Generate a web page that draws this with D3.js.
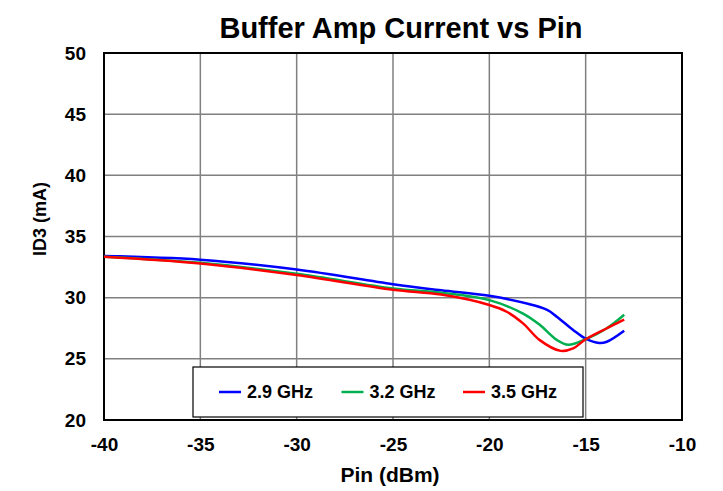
<!DOCTYPE html>
<html><head><meta charset="utf-8">
<script src="https://cdn.jsdelivr.net/npm/d3@7"></script>
<style>body{margin:0;background:#fff}svg{font-family:Arial,"Liberation Sans",sans-serif}</style>
</head><body><svg id="c" width="723" height="491"></svg>
<script>
const seriesNames = ["2.9 GHz","3.2 GHz","3.5 GHz"];
const seriesColors = ["#0000FF","#00B050","#FF0000"];
const pin29 = [-40,-35,-30,-25,-22.5,-20,-18,-17,-16.5,-15.65,-15,-14.3,-13.9,-13];
const id29  = [33.4,33.1,32.3,31.1,30.6,30.15,29.5,29.0,28.45,27.36,26.65,26.3,26.4,27.3];
const pin32 = [-40,-35,-30,-25,-22.5,-20,-18.25,-17.4,-16.5,-15.9,-15,-13.9,-13];
const id32  = [33.35,32.85,31.95,30.75,30.4,29.8,28.7,27.8,26.55,26.15,26.6,27.5,28.6];
const pin35 = [-40,-35,-30,-25,-22.5,-20,-19.1,-18.25,-17.4,-16.3,-15.65,-15,-13.9,-13];
const id35  = [33.35,32.8,31.85,30.65,30.25,29.4,28.85,27.9,26.55,25.65,25.85,26.6,27.5,28.2];
const xTicks = [-40,-35,-30,-25,-20,-15,-10];
const yTicks = [20,25,30,35,40,45,50];

const svg = d3.select("#c");
const L=104,R=682,T=53,B=420;
const x = d3.scaleLinear().domain([-40,-10]).range([L,R]);
const y = d3.scaleLinear().domain([20,50]).range([B,T]);
const fmt = d => String(d);

const g = svg.append("g");
g.selectAll(".gx").data(xTicks).join("line").attr("x1",d=>x(d)).attr("x2",d=>x(d)).attr("y1",T).attr("y2",B).attr("stroke","#808080").attr("stroke-width",1.5);
g.selectAll(".gy").data(yTicks).join("line").attr("y1",d=>y(d)).attr("y2",d=>y(d)).attr("x1",L).attr("x2",R).attr("stroke","#808080").attr("stroke-width",1.5);
g.append("rect").attr("x",L).attr("y",T).attr("width",R-L).attr("height",B-T).attr("fill","none").attr("stroke","#000").attr("stroke-width",2);

const xa = svg.append("g").attr("transform",`translate(0,${B})`).call(d3.axisBottom(x).tickValues(xTicks).tickFormat(fmt).tickSize(0).tickPadding(18));
xa.select(".domain").remove();
xa.selectAll("text").attr("font-size",19).attr("font-weight","bold").attr("fill","#000").attr("font-family","Arial, Liberation Sans, sans-serif");
const ya = svg.append("g").attr("transform",`translate(${L},0)`).call(d3.axisLeft(y).tickValues(yTicks).tickFormat(fmt).tickSize(0).tickPadding(18));
ya.select(".domain").remove();
ya.selectAll("text").attr("font-size",19).attr("font-weight","bold").attr("fill","#000").attr("font-family","Arial, Liberation Sans, sans-serif");

const data = [pin29.map((p,i)=>[p,id29[i]]), pin32.map((p,i)=>[p,id32[i]]), pin35.map((p,i)=>[p,id35[i]])];
const line = d3.line().x(d=>x(d[0])).y(d=>y(d[1])).curve(d3.curveCatmullRom.alpha(0.5));
data.forEach((s,i)=>{
  svg.append("path").datum(s).attr("d",line).attr("fill","none").attr("stroke",seriesColors[i]).attr("stroke-width",2.5);
});

svg.append("text").attr("x",401).attr("y",38).attr("text-anchor","middle").attr("font-size",29).attr("font-weight","bold").text("Buffer Amp Current vs Pin");
svg.append("text").attr("x",390).attr("y",482).attr("text-anchor","middle").attr("font-size",21).attr("font-weight","bold").text("Pin (dBm)");
svg.append("text").attr("transform","translate(46,219) rotate(-90)").attr("text-anchor","middle").attr("font-size",18).attr("font-weight","bold").text("ID3 (mA)");

const lg = svg.append("g");
lg.append("rect").attr("x",193).attr("y",367).attr("width",390).attr("height",50).attr("fill","#fff").attr("stroke","#000").attr("stroke-width",1.2);
const lx=[219,341.5,463];
seriesNames.forEach((n,i)=>{
  lg.append("line").attr("x1",lx[i]).attr("x2",lx[i]+22).attr("y1",392).attr("y2",392).attr("stroke",seriesColors[i]).attr("stroke-width",2.5);
  lg.append("text").attr("x",lx[i]+28).attr("y",398).attr("font-size",18).attr("font-weight","bold").text(n);
});
</script></body></html>
